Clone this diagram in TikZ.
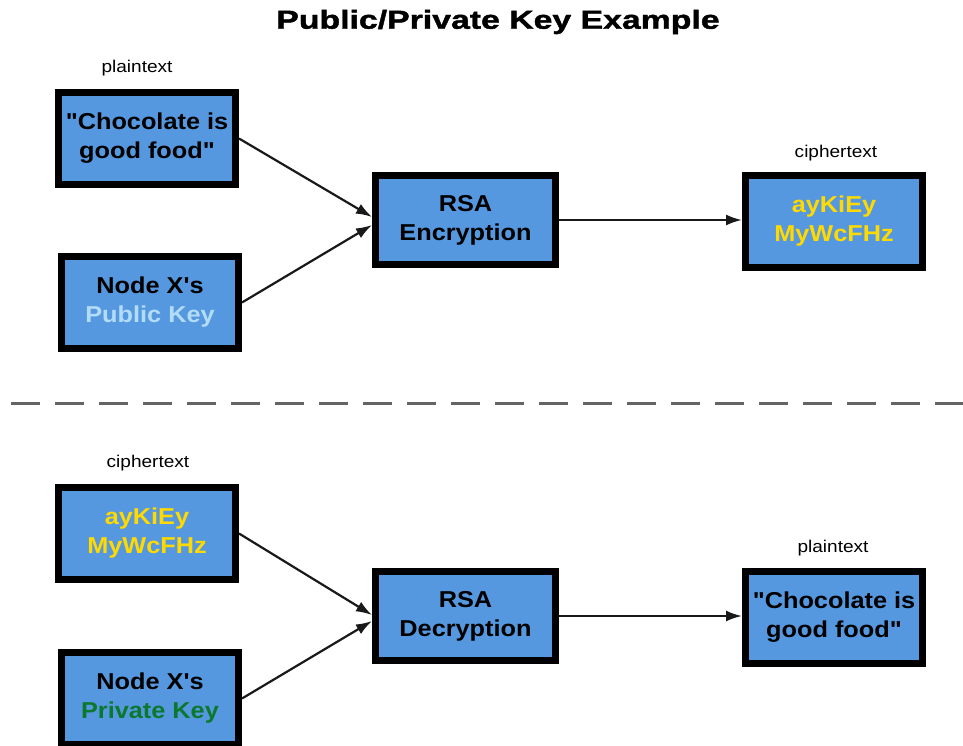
\documentclass[tikz,border=0pt]{standalone}
\usepackage{fontspec}
\setmainfont{Liberation Sans}[Ligatures=TeXOff]
\newfontfamily\boxfont{Liberation Sans}[Ligatures=TeXOff, FakeStretch=1.1]
\newfontfamily\titlefont{Liberation Sans}[Ligatures=TeXOff, FakeStretch=1.3, FakeBold=1.6]
\newfontfamily\capfont{Liberation Sans}[Ligatures=TeXOff, FakeStretch=1.12]
\usetikzlibrary{arrows.meta,calc}

\definecolor{boxblue}{RGB}{85,152,224}
\definecolor{cipheryellow}{RGB}{255,217,0}
\definecolor{pubblue}{RGB}{178,220,248}
\definecolor{privgreen}{RGB}{10,120,45}
\definecolor{linegray}{RGB}{100,100,100}

\tikzset{
  keybox/.style={draw=black, fill=boxblue, line width=7pt,
    minimum width=177pt, minimum height=92pt, inner sep=0pt,
    align=center, font=\boxfont\bfseries\fontsize{23}{29}\selectfont},
  procbox/.style={keybox, minimum width=180pt, minimum height=89pt},
  caption/.style={font=\capfont\fontsize{17}{20}\selectfont, inner sep=0pt},
  flow/.style={draw=black!90, line width=2.2pt,
    -{Latex[length=16pt,width=11pt]}},
}

\begin{document}
\begin{tikzpicture}[x=1pt, y=-1pt]
  \useasboundingbox (0,0) rectangle (963,746);
  \clip (0,0) rectangle (963,746);

  % heading
  \node[font=\titlefont\bfseries\fontsize{26}{30}\selectfont, inner sep=0pt] (title) at (498,22) {Public/Private Key Example};

  % encryption
  \node[caption] (capPlainA) at (137,68) {plaintext};
  \node[keybox] (plainA) at (147,138.5) {"Chocolate is\\good food"};
  \node[keybox] (pubkey) at (150,302.5) {Node X's\\\textcolor{pubblue}{Public Key}};
  \node[procbox] (enc) at (465.5,220) {RSA\\Encryption};
  \node[caption] (capCipherA) at (836,153) {ciphertext};
  \node[keybox, text=cipheryellow] (cipherA) at (834,221.5) {ayKiEy\\MyWcFHz};

  \draw[flow] (plainA.east) -- ($(enc.west)+(0,-3)$);
  \draw[flow] (pubkey.east) -- ($(enc.west)+(0,5)$);
  \draw[flow] (enc.east) -- (enc.east -| cipherA.west);

  % separator
  \coordinate (sepL) at (11,403);
  \coordinate (sepR) at (963,403);
  \draw[linegray, line width=3pt, dash pattern=on 29pt off 15pt] (sepL) -- (sepR);

  % decryption
  \node[caption] (capCipherB) at (148,463) {ciphertext};
  \node[keybox, text=cipheryellow] (cipherB) at (147,533.5) {ayKiEy\\MyWcFHz};
  \node[keybox] (privkey) at (150,698.5) {Node X's\\\textcolor{privgreen}{Private Key}};
  \node[procbox] (dec) at (465.5,616) {RSA\\Decryption};
  \node[caption] (capPlainB) at (833,548) {plaintext};
  \node[keybox] (plainB) at (834,617.5) {"Chocolate is\\good food"};

  \draw[flow] (cipherB.east) -- ($(dec.west)+(0,-1)$);
  \draw[flow] (privkey.east) -- ($(dec.west)+(0,5)$);
  \draw[flow] (dec.east) -- (dec.east -| plainB.west);
\end{tikzpicture}
\end{document}
